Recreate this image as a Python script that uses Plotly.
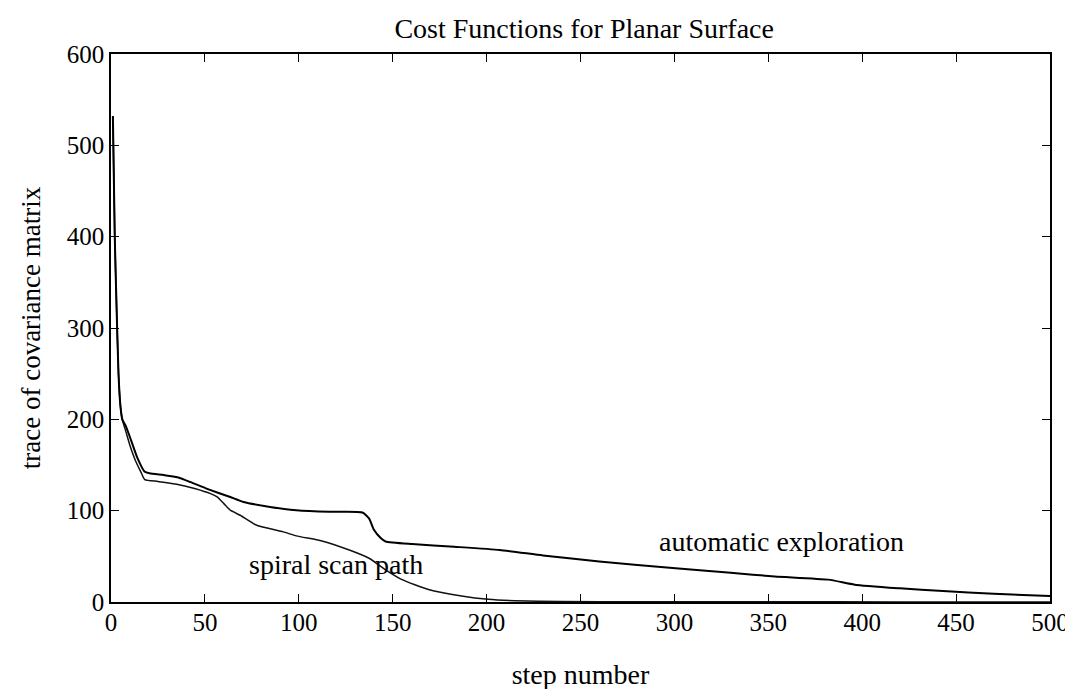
import plotly.graph_objects as go

# spiral scan path (lower curve)
spiral_steps = [1, 2, 3, 4, 5, 6, 8, 10, 13, 16, 18, 25, 35, 45, 53, 56.5, 60, 63.5, 68.8, 77.6,
                91.7, 98.7, 112.8, 126.9, 137.4, 146.2, 155, 169, 186.7, 200.8, 215, 240, 280,
                350, 420, 500]
spiral_vals = [532, 400, 320, 250, 215, 200, 186, 172, 155, 142, 134, 132, 129, 124, 118.6, 115,
               108, 100.5, 95, 84, 76.8, 72.4, 66.6, 56.9, 47.9, 35.3, 24.5, 13.7, 6.5, 2.9, 1.4,
               0.6, 0.3, 0.2, 0.1, 0.1]

# automatic exploration (upper curve)
auto_steps = [1, 2, 3, 4, 5, 6, 8, 10.7, 14, 17.8, 20.5, 28, 35.4, 42.4, 51.2, 63.5, 70.6, 84.7,
              98.7, 116.3, 133.9, 137.4, 140, 143.6, 146.2, 160.3, 182.7, 207, 230, 260, 300.6,
              330, 353.5, 382, 396, 420, 443, 470, 500]
auto_vals = [532, 400, 320, 250, 215, 200, 192, 177, 158, 143, 141, 139, 136.6, 131.2, 123.9,
             114.9, 109.5, 104.1, 100.5, 98.7, 98.0, 91.5, 79, 70, 66.3, 63.4, 60.5, 57, 51, 44.3,
             37, 32, 28, 24.5, 19, 15, 12, 9, 6.5]

x_ticks = list(range(0, 501, 50))
y_ticks = list(range(0, 601, 100))

title_text = "Cost Functions for Planar Surface"
x_title = "step number"
y_title = "trace of covariance matrix"
label_spiral = ("spiral scan path", 120, 41)
label_auto = ("automatic exploration", 357, 66)

FONT = "Liberation Serif, Times New Roman, serif"

fig = go.Figure()
fig.add_trace(go.Scatter(x=spiral_steps, y=spiral_vals, mode="lines",
                         line=dict(color="#111111", width=1.5, shape="spline", smoothing=0.5),
                         showlegend=False))
fig.add_trace(go.Scatter(x=auto_steps, y=auto_vals, mode="lines",
                         line=dict(color="#000000", width=2, shape="spline", smoothing=0.5),
                         showlegend=False))

for txt, lx, ly in (label_spiral, label_auto):
    fig.add_annotation(x=lx, y=ly, text=txt, showarrow=False,
                       font=dict(family=FONT, size=28, color="black"))

axis_common = dict(showgrid=False, zeroline=False, showline=True, linecolor="black",
                   linewidth=1.5, mirror="ticks", ticks="inside", ticklen=8,
                   tickcolor="black", tickwidth=1,
                   tickfont=dict(family=FONT, size=25, color="black"))

fig.update_xaxes(range=[0, 500], tickvals=x_ticks, ticktext=[str(v) for v in x_ticks],
                 ticklabelstandoff=-3,
                 title=dict(text=x_title, font=dict(family=FONT, size=28, color="black"),
                            standoff=30),
                 **axis_common)
fig.update_yaxes(range=[0, 600], tickvals=y_ticks, ticktext=[str(v) for v in y_ticks],
                 title=dict(text=y_title, font=dict(family=FONT, size=27, color="black"),
                            standoff=18),
                 **axis_common)

fig.update_layout(
    width=1073, height=689,
    margin=dict(l=103, r=23, t=46, b=88),
    paper_bgcolor="white", plot_bgcolor="white",
    title=dict(text=title_text, x=0.537, xanchor="center", y=0.971, yanchor="middle",
               yref="container", font=dict(family=FONT, size=28, color="black")),
)

fig.write_html("out.html")
